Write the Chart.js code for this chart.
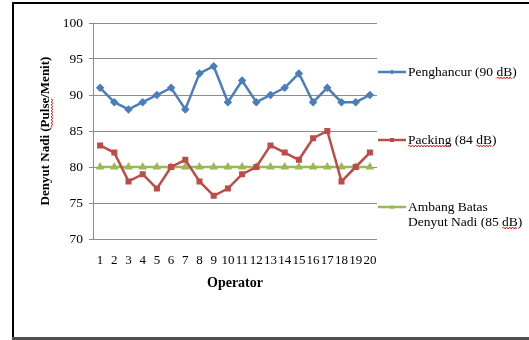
<!DOCTYPE html>
<html>
<head>
<meta charset="utf-8">
<script src="https://cdn.jsdelivr.net/npm/chart.js@4.4.1/dist/chart.umd.min.js"></script>
<style>
  html, body { margin: 0; padding: 0; background: #fff; }
  #wrap { width: 529px; height: 340px; position: relative; }
</style>
</head>
<body>
<div id="wrap"><canvas id="myChart"></canvas></div>
<script>
// Denyut nadi per operator
var operators = ['1', '2', '3', '4', '5', '6', '7', '8', '9', '10',
                 '11', '12', '13', '14', '15', '16', '17', '18', '19', '20'];
var penghancur = [91, 89, 88, 89, 90, 91, 88, 93, 94, 89, 92, 89, 90, 91, 93, 89, 91, 89, 89, 90];
var packing = [83, 82, 78, 79, 77, 80, 81, 78, 76, 77, 79, 80, 83, 82, 81, 84, 85, 78, 80, 82];
var ambangBatas = [80, 80, 80, 80, 80, 80, 80, 80, 80, 80, 80, 80, 80, 80, 80, 80, 80, 80, 80, 80];
var seriesLabels = [['Penghancur (90 dB)'], ['Packing (84 dB)'], ['Ambang Batas', 'Denyut Nadi (85 dB)']];
var yMin = 70, yMax = 100, yStep = 5;

var serif = "'Liberation Serif', 'Times New Roman', serif";

// red spell-check squiggle
function squiggle(ctx, x0, x1, y) {
    ctx.save();
    ctx.strokeStyle = '#e8241c';
    ctx.lineWidth = 1;
    ctx.beginPath();
    var up = true;
    ctx.moveTo(x0, y);
    for (var x = x0 + 1.5; x <= x1; x += 1.5) {
        ctx.lineTo(x, up ? y - 1 : y + 1);
        up = !up;
    }
    ctx.stroke();
    ctx.restore();
}

function marker(ctx, style, x, y, r, color) {
    ctx.save();
    ctx.fillStyle = color;
    ctx.beginPath();
    if (style === 'rectRot') {
        ctx.moveTo(x, y - r); ctx.lineTo(x + r, y); ctx.lineTo(x, y + r); ctx.lineTo(x - r, y);
    } else if (style === 'rect') {
        ctx.rect(x - r * 0.8, y - r * 0.8, r * 1.6, r * 1.6);
    } else {
        ctx.moveTo(x, y - r); ctx.lineTo(x + r, y + r * 0.7); ctx.lineTo(x - r, y + r * 0.7);
    }
    ctx.closePath();
    ctx.fill();
    ctx.restore();
}

// outer frame of the figure
var framePlugin = {
    id: 'frame',
    beforeDraw: function (chart) {
        var ctx = chart.ctx;
        ctx.save();
        ctx.fillStyle = '#000';
        ctx.fillRect(12, 2, 517, 2);
        ctx.fillRect(12, 2, 2, 337);
        ctx.fillStyle = '#505050';
        ctx.fillRect(12, 337, 517, 3);
        ctx.restore();
    }
};

// legend on the right side
var sideLegend = {
    id: 'sideLegend',
    afterDraw: function (chart) {
        var ctx = chart.ctx;
        var rows = [72, 140, 207];
        ctx.save();
        ctx.font = '13.5px ' + serif;
        ctx.textBaseline = 'middle';
        ctx.fillStyle = '#000';
        chart.data.datasets.forEach(function (ds, i) {
            var y = rows[i];
            ctx.strokeStyle = ds.borderColor;
            ctx.lineWidth = 2.5;
            ctx.beginPath();
            ctx.moveTo(378, y);
            ctx.lineTo(406, y);
            ctx.stroke();
            marker(ctx, ds.pointStyle, 392, y, 2.5, ds.borderColor);
            var lines = seriesLabels[i];
            lines.forEach(function (t, j) {
                var ty = y + j * 15;
                ctx.fillStyle = '#000';
                ctx.fillText(t, 408, ty);
                var k = t.indexOf('dB');
                if (k >= 0) {
                    var sx = 408 + ctx.measureText(t.slice(0, k)).width;
                    squiggle(ctx, sx, sx + ctx.measureText('dB').width, ty + 6);
                }
                if (t.indexOf('Packing') === 0) {
                    squiggle(ctx, 408, 408 + ctx.measureText('Packing').width, ty + 6);
                }
            });
        });
        ctx.restore();

        // squiggle under "Pulse" in the y axis title
        var ys = chart.scales.y;
        var txt = ys.options.title.text;
        ctx.save();
        ctx.font = 'bold 13px ' + serif;
        var full = ctx.measureText(txt).width;
        var start = ctx.measureText(txt.slice(0, txt.indexOf('Pulse'))).width;
        var w = ctx.measureText('Pulse').width;
        ctx.translate(52, (ys.top + ys.bottom) / 2);
        ctx.rotate(-Math.PI / 2);
        squiggle(ctx, -full / 2 + start, -full / 2 + start + w, 0);
        ctx.restore();
    }
};

var ctx = document.getElementById('myChart').getContext('2d');
var myChart = new Chart(ctx, {
    type: 'line',
    data: {
        labels: operators,
        datasets: [
            {
                label: 'Penghancur (90 dB)',
                data: penghancur,
                borderColor: '#4A7EBB',
                backgroundColor: '#4A7EBB',
                pointStyle: 'rectRot',
                pointRadius: 2.5,
                borderWidth: 2.5
            },
            {
                label: 'Packing (84 dB)',
                data: packing,
                borderColor: '#BE4B48',
                backgroundColor: '#BE4B48',
                pointStyle: 'rect',
                pointRadius: 2.5,
                borderWidth: 2.5
            },
            {
                label: 'Ambang Batas Denyut Nadi (85 dB)',
                data: ambangBatas,
                borderColor: '#98B954',
                backgroundColor: '#98B954',
                pointStyle: 'triangle',
                pointRadius: 2.5,
                borderWidth: 2.5
            }
        ]
    },
    options: {
        responsive: true,
        maintainAspectRatio: false,
        animation: false,
        layout: { padding: { left: 0, right: 152, top: 23, bottom: 41 } },
        plugins: {
            legend: { display: false },
            tooltip: { enabled: false }
        },
        elements: { line: { tension: 0 }, point: { borderWidth: 0 } },
        scales: {
            x: {
                offset: true,
                grid: { display: false },
                border: { display: false },
                ticks: {
                    autoSkip: false,
                    maxRotation: 0,
                    padding: 6,
                    color: '#000',
                    font: { family: serif, size: 13 }
                },
                title: {
                    display: true,
                    text: 'Operator',
                    color: '#000',
                    font: { family: serif, size: 14, weight: 'bold' },
                    padding: { top: 0, bottom: 7 }
                },
                afterFit: function (s) { s.height = 60; }
            },
            y: {
                min: yMin,
                max: yMax,
                ticks: {
                    stepSize: yStep,
                    padding: 6,
                    color: '#000',
                    font: { family: serif, size: 13.5 }
                },
                grid: { color: '#8c8c8c', lineWidth: 1, tickLength: 4 },
                border: { color: '#8c8c8c' },
                title: {
                    display: true,
                    text: 'Denyut Nadi (Pulse/Menit)',
                    color: '#000',
                    font: { family: serif, size: 13, weight: 'bold' },
                    padding: { top: 38, bottom: 0 }
                },
                afterFit: function (s) { s.width = 93; }
            }
        }
    },
    plugins: [framePlugin, sideLegend]
});
</script>
</body>
</html>
